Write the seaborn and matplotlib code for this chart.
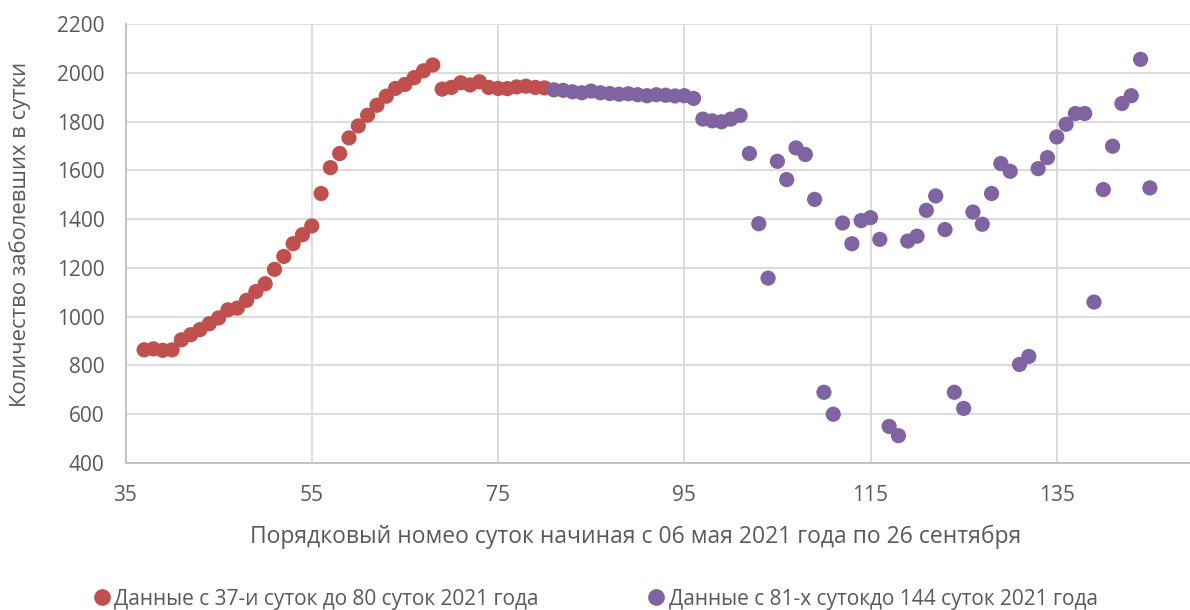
import matplotlib
matplotlib.use("Agg")
import matplotlib.pyplot as plt
import seaborn as sns
import pandas as pd
from matplotlib.lines import Line2D

# ---- data ----
red_days = list(range(37, 81))
red_values = [864, 868, 862, 864, 905, 926, 947, 971, 995,
              1028, 1035, 1067, 1103, 1135, 1194, 1247, 1299, 1336, 1372,
              1505, 1611, 1669, 1733, 1782, 1826, 1867, 1904, 1936, 1952,
              1980, 2008, 2032, 1933, 1940, 1959, 1950, 1963, 1940, 1936,
              1935, 1942, 1945, 1940, 1938]
purple_days = list(range(81, 146))
purple_values = [1930, 1928, 1922, 1918, 1925, 1918, 1915, 1912, 1914, 1910, 1906,
                 1910, 1908, 1905, 1906, 1895,
                 1810, 1803, 1799, 1810, 1825,
                 1669, 1381, 1158, 1637, 1562,
                 1692, 1665, 1481, 690, 600,
                 1384, 1299, 1394, 1406, 1317,
                 550, 512, 1310, 1330, 1436,
                 1495, 1357, 690, 624, 1429,
                 1379, 1505, 1628, 1596, 804,
                 837, 1607, 1652, 1737, 1789,
                 1833, 1833, 1060, 1521, 1699,
                 1874, 1906, 2055, 1528]
series_names = ["Данные с 37-и суток до 80 суток 2021 года",
                "Данные с 81-х сутокдо 144 суток 2021 года"]
x_ticks = [35, 55, 75, 95, 115, 135]
y_ticks = [400, 600, 800, 1000, 1200, 1400, 1600, 1800, 2000, 2200]
x_label = "Порядковый номео суток начиная с 06 мая 2021 года по 26 сентября"
y_label = "Количество заболевших в сутки"

df = pd.concat([
    pd.DataFrame({"day": red_days, "value": red_values, "series": series_names[0]}),
    pd.DataFrame({"day": purple_days, "value": purple_values, "series": series_names[1]}),
])

RED = "#C0504D"
PURPLE = "#8064A2"
TXT = "#595959"
GRID = "#D9D9D9"
AXC = "#BFBFBF"

sns.set_theme(style="white")
plt.rcParams["font.family"] = ["Open Sans", "DejaVu Sans"]

fig = plt.figure(figsize=(11.9, 6.1), dpi=100)
ax = fig.add_axes([125.5 / 1190, 147 / 610, (1243 - 125.5) / 1190, 439 / 610])

sns.scatterplot(data=df, x="day", y="value", hue="series",
                palette={series_names[0]: RED, series_names[1]: PURPLE},
                s=120, linewidth=0, alpha=1, ax=ax, legend=False, zorder=3)

ax.set_xlim(35, 155)
ax.set_ylim(400, 2200)
ax.set_xticks(x_ticks)
ax.set_yticks(y_ticks)
ax.grid(True, color=GRID, linewidth=1.3)
ax.set_axisbelow(True)
for s in ["top", "right"]:
    ax.spines[s].set_visible(False)
for s in ["left", "bottom"]:
    ax.spines[s].set_color(AXC)
    ax.spines[s].set_linewidth(1.3)
ax.tick_params(axis="both", colors=AXC, length=5, width=1.3, direction="out",
               labelcolor=TXT, labelsize=15)
ax.tick_params(axis="y", pad=10)
ax.tick_params(axis="x", pad=11)
ax.set_xlabel("")
ax.set_ylabel(y_label, color=TXT, fontsize=15.8)
ax.yaxis.set_label_coords(-(125.5 - 20) / (1243 - 125.5), 0.52)
ax.yaxis.label.set_va("center")

fig.text(636 / 1190, 1 - 537 / 610, x_label, ha="center", va="center",
         color=TXT, fontsize=16.5)

handles = [Line2D([], [], marker="o", linestyle="", color=RED, markersize=11),
           Line2D([], [], marker="o", linestyle="", color=PURPLE, markersize=11)]
fig.legend(handles, series_names, loc="center", ncol=2,
           bbox_to_anchor=(595 / 1190, 1 - 599 / 610), frameon=False,
           fontsize=15, labelcolor=TXT, handletextpad=0.15,
           columnspacing=5.2, handlelength=0.9)

fig.savefig("out.png", dpi=100)
